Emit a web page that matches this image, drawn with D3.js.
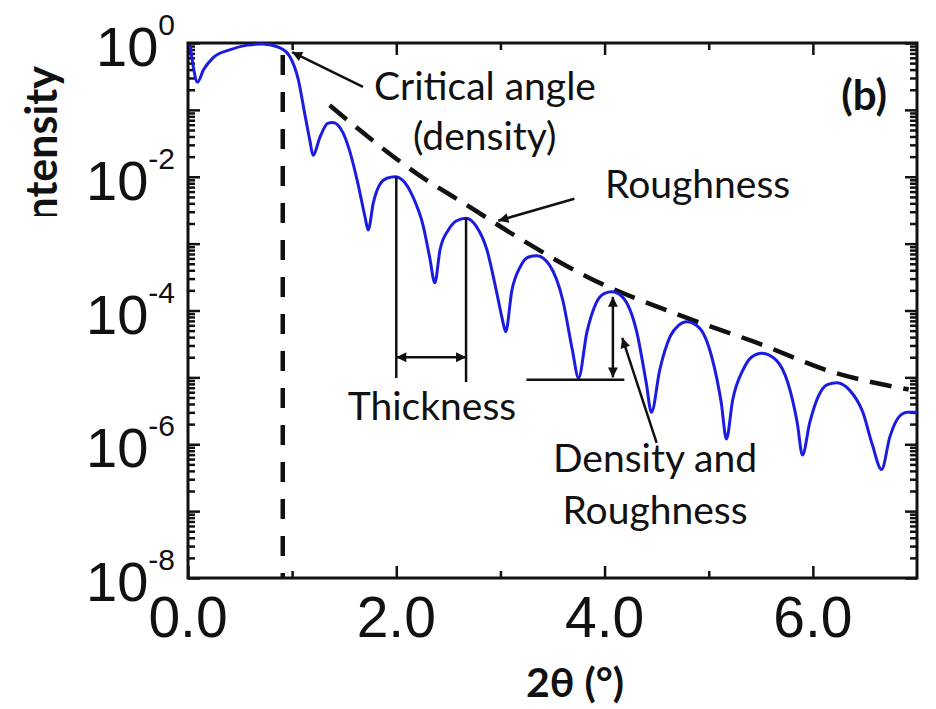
<!DOCTYPE html>
<html>
<head>
<meta charset="utf-8">
<script src="https://cdn.jsdelivr.net/npm/d3@7/dist/d3.min.js"></script>
<style>
  body { margin: 0; background: #fff; }
  text { fill: #111; }
</style>
</head>
<body>
<svg id="chart" width="936" height="709"></svg>
<script>
// reflectivity curve
var angle = [0.02, 0.05, 0.09, 0.15, 0.24, 0.40, 0.57, 0.72, 0.88, 0.98, 1.06, 1.12, 1.17, 1.20,
  1.27, 1.34, 1.39, 1.49, 1.55, 1.63, 1.70, 1.73,
  1.78, 1.84, 1.91, 1.99, 2.06, 2.16, 2.26, 2.32, 2.37,
  2.42, 2.50, 2.58, 2.67, 2.77, 2.87, 2.96, 3.02, 3.05,
  3.11, 3.19, 3.27, 3.35, 3.47, 3.60, 3.69, 3.75,
  3.83, 3.92, 4.00, 4.07, 4.17, 4.31, 4.40, 4.45,
  4.53, 4.63, 4.71, 4.79, 4.91, 5.03, 5.12, 5.17,
  5.23, 5.33, 5.41, 5.51, 5.65, 5.76, 5.85, 5.90,
  5.97, 6.05, 6.14, 6.23, 6.35, 6.48, 6.57, 6.66,
  6.74, 6.83, 6.91, 7.00];
var intensity = [0.93, 0.45, 0.26, 0.40, 0.60, 0.79, 0.93, 0.97, 0.85, 0.62, 0.28, 0.089, 0.035, 0.021,
  0.040, 0.063, 0.065, 0.045, 0.025, 8.1e-3, 2.5e-3, 1.6e-3,
  4.1e-3, 7.6e-3, 9.5e-3, 1.0e-2, 8.9e-3, 5.0e-3, 1.8e-3, 6.3e-4, 2.6e-4,
  8.1e-4, 1.6e-3, 2.2e-3, 2.4e-3, 1.8e-3, 8.1e-4, 2.0e-4, 7.2e-5, 4.8e-5,
  2.0e-4, 4.5e-4, 6.3e-4, 6.6e-4, 4.8e-4, 1.4e-4, 2.6e-5, 9.8e-6,
  4.7e-5, 1.3e-4, 1.8e-4, 1.9e-4, 1.6e-4, 4.7e-5, 8.3e-6, 3.0e-6,
  1.3e-5, 4.1e-5, 6.0e-5, 6.8e-5, 5.5e-5, 2.0e-5, 4.2e-6, 1.2e-6,
  4.6e-6, 1.3e-5, 2.0e-5, 2.3e-5, 1.8e-5, 8.3e-6, 2.1e-6, 6.9e-7,
  2.1e-6, 5.1e-6, 7.8e-6, 8.3e-6, 6.5e-6, 3.0e-6, 1.0e-6, 4.2e-7,
  1.3e-6, 2.6e-6, 3.0e-6, 3.0e-6];

// roughness envelope (dashed)
var envAngle = [1.36, 2.29, 2.64, 3.16, 3.83, 4.72, 5.46, 6.19, 6.92];
var envIntensity = [0.117, 8.9e-3, 4.1e-3, 1.26e-3, 3.2e-4, 8.5e-5, 3.3e-5, 1.2e-5, 6.6e-6];

var criticalAngle = 0.91;

var xTicks = [0, 2, 4, 6];
var xMinorTicks = [1, 3, 5];
var yExponents = [0, -2, -4, -6, -8];

// annotation anchors in data units
var criticalArrow = [[1.68, 0.22], [1.00, 0.73]];
var roughArrow = [[3.71, 4.7e-3], [2.98, 2.2e-3]];
var thicknessLines = [[2.0, 1.0e-2, 9.8e-6], [2.67, 2.4e-3, 8.5e-6]];
var thicknessSpan = [2.0, 2.67, 2.0e-5];
var densityBase = [3.25, 4.19, 9.2e-6];
var densitySpan = [4.08, 1.6e-4, 1.0e-5];
var densityArrow = [[4.50, 1.05e-6], [4.17, 3.9e-5]];

var svg = d3.select('#chart');
var plotLeft = 188, plotRight = 917, plotTop = 43, plotBottom = 578;

var x = d3.scaleLinear().domain([0, 7]).range([plotLeft, plotRight]);
var y = d3.scaleLog().domain([1e-8, 1]).range([plotBottom, plotTop]);

var defs = svg.append('defs');
defs.append('marker')
  .attr('id', 'head')
  .attr('viewBox', '0 0 10 10')
  .attr('refX', 10).attr('refY', 5)
  .attr('markerWidth', 13).attr('markerHeight', 10)
  .attr('markerUnits', 'userSpaceOnUse')
  .attr('orient', 'auto-start-reverse')
  .append('path').attr('d', 'M0,0 L10,5 L0,10 Z').attr('fill', '#111');
defs.append('clipPath').attr('id', 'ylabclip')
  .append('rect').attr('x', 0).attr('y', 0).attr('width', 120).attr('height', 216);

// minor ticks for log axis
var yMinor = [];
for (var e = -8; e < 0; e++) {
  for (var k = 2; k <= 9; k++) yMinor.push(k * Math.pow(10, e));
}
var yMajor = d3.range(-8, 1).map(function (d) { return Math.pow(10, d); });

function tickGroup(axis, tx, ty) {
  var g = svg.append('g').attr('transform', 'translate(' + tx + ',' + ty + ')').call(axis);
  g.select('.domain').remove();
  g.selectAll('line').attr('stroke', '#111').attr('stroke-width', 2.5);
  g.selectAll('text').remove();
  return g;
}

tickGroup(d3.axisLeft(y).tickValues(yMajor).tickSizeInner(-12).tickSizeOuter(0), plotLeft, 0);
tickGroup(d3.axisLeft(y).tickValues(yMinor).tickSizeInner(-7).tickSizeOuter(0), plotLeft, 0);
tickGroup(d3.axisRight(y).tickValues(yMajor).tickSizeInner(-12).tickSizeOuter(0), plotRight, 0);
tickGroup(d3.axisRight(y).tickValues(yMinor).tickSizeInner(-7).tickSizeOuter(0), plotRight, 0);
tickGroup(d3.axisBottom(x).tickValues(xTicks).tickSizeInner(-12).tickSizeOuter(0), 0, plotBottom);
tickGroup(d3.axisBottom(x).tickValues(xMinorTicks).tickSizeInner(-7).tickSizeOuter(0), 0, plotBottom);
tickGroup(d3.axisTop(x).tickValues(xTicks).tickSizeInner(-12).tickSizeOuter(0), 0, plotTop);
tickGroup(d3.axisTop(x).tickValues(xMinorTicks).tickSizeInner(-7).tickSizeOuter(0), 0, plotTop);

svg.append('rect')
  .attr('x', plotLeft).attr('y', plotTop)
  .attr('width', plotRight - plotLeft).attr('height', plotBottom - plotTop)
  .attr('fill', 'none').attr('stroke', '#111').attr('stroke-width', 3);

// tick labels
svg.append('g').selectAll('text').data(xTicks).join('text')
  .attr('x', function (d) { return x(d); })
  .attr('y', 637)
  .attr('text-anchor', 'middle')
  .attr('font-family', 'Liberation Sans, Arial, sans-serif')
  .attr('font-size', 57)
  .text(function (d) { return d.toFixed(1); });

var yl = svg.append('g').selectAll('text').data(yExponents).join('text')
  .attr('x', 175)
  .attr('y', function (d) { return y(Math.pow(10, d)) + 23; })
  .attr('text-anchor', 'end')
  .attr('font-family', 'Liberation Sans, Arial, sans-serif')
  .attr('font-size', 56);
yl.append('tspan').text('10');
yl.append('tspan').attr('dy', -31).attr('font-size', 30)
  .text(function (d) { return d === 0 ? '0' : '-' + (-d); });

// axis titles
svg.append('text')
  .attr('x', 575).attr('y', 697)
  .attr('text-anchor', 'middle')
  .attr('font-family', 'Lato, sans-serif')
  .attr('font-weight', 'bold')
  .attr('font-size', 41)
  .text('2θ (°)');

svg.append('g').attr('clip-path', 'url(#ylabclip)')
  .append('text')
  .attr('transform', 'translate(57,66) rotate(-90)')
  .attr('text-anchor', 'end')
  .attr('font-family', 'Lato, sans-serif')
  .attr('font-weight', 'bold')
  .attr('font-size', 43)
  .text('Intensity');

// critical angle marker
svg.append('line')
  .attr('x1', x(criticalAngle)).attr('x2', x(criticalAngle))
  .attr('y1', plotTop + 12).attr('y2', plotBottom)
  .attr('stroke', '#111').attr('stroke-width', 4.5)
  .attr('stroke-dasharray', '20,17');

// envelope
svg.append('path')
  .datum(d3.zip(envAngle, envIntensity))
  .attr('d', d3.line().x(function (d) { return x(d[0]); }).y(function (d) { return y(d[1]); })
    .curve(d3.curveMonotoneX))
  .attr('fill', 'none').attr('stroke', '#111').attr('stroke-width', 4.5)
  .attr('stroke-dasharray', '22,12');

// measured curve
svg.append('path')
  .datum(d3.zip(angle, intensity))
  .attr('d', d3.line().x(function (d) { return x(d[0]); }).y(function (d) { return y(d[1]); })
    .curve(d3.curveMonotoneX))
  .attr('fill', 'none').attr('stroke', '#1c1ce0').attr('stroke-width', 3)
  .attr('stroke-linejoin', 'round');

// annotations
var ann = svg.append('g').attr('stroke', '#111').attr('stroke-width', 2.5).attr('fill', 'none');

function arrow(p, q, both) {
  var l = ann.append('line')
    .attr('x1', x(p[0])).attr('y1', y(p[1]))
    .attr('x2', x(q[0])).attr('y2', y(q[1]))
    .attr('marker-end', 'url(#head)');
  if (both) l.attr('marker-start', 'url(#head)');
}

arrow(criticalArrow[0], criticalArrow[1]);
arrow(roughArrow[0], roughArrow[1]);
arrow(densityArrow[0], densityArrow[1]);

thicknessLines.forEach(function (d) {
  ann.append('line')
    .attr('x1', x(d[0])).attr('x2', x(d[0]))
    .attr('y1', y(d[1])).attr('y2', y(d[2]));
});
arrow([thicknessSpan[0], thicknessSpan[2]], [thicknessSpan[1], thicknessSpan[2]], true);

ann.append('line')
  .attr('x1', x(densityBase[0])).attr('x2', x(densityBase[1]))
  .attr('y1', y(densityBase[2])).attr('y2', y(densityBase[2]));
arrow([densitySpan[0], densitySpan[1]], [densitySpan[0], densitySpan[2]], true);

var labels = [
  { t: 'Critical angle', x: 374, y: 100, a: 'start' },
  { t: '(density)', x: 413, y: 150, a: 'start' },
  { t: 'Roughness', x: 605, y: 198, a: 'start' },
  { t: 'Thickness', x: 432, y: 420, a: 'middle' },
  { t: 'Density and', x: 655, y: 472, a: 'middle' },
  { t: 'Roughness', x: 655, y: 524, a: 'middle' }
];
svg.append('g').selectAll('text').data(labels).join('text')
  .attr('x', function (d) { return d.x; })
  .attr('y', function (d) { return d.y; })
  .attr('text-anchor', function (d) { return d.a; })
  .attr('font-family', 'Lato, sans-serif')
  .attr('font-size', 39)
  .text(function (d) { return d.t; });

svg.append('text')
  .attr('x', 887).attr('y', 110)
  .attr('text-anchor', 'end')
  .attr('font-family', 'Lato, sans-serif')
  .attr('font-weight', 'bold')
  .attr('font-size', 42)
  .text('(b)');
</script>
</body>
</html>
